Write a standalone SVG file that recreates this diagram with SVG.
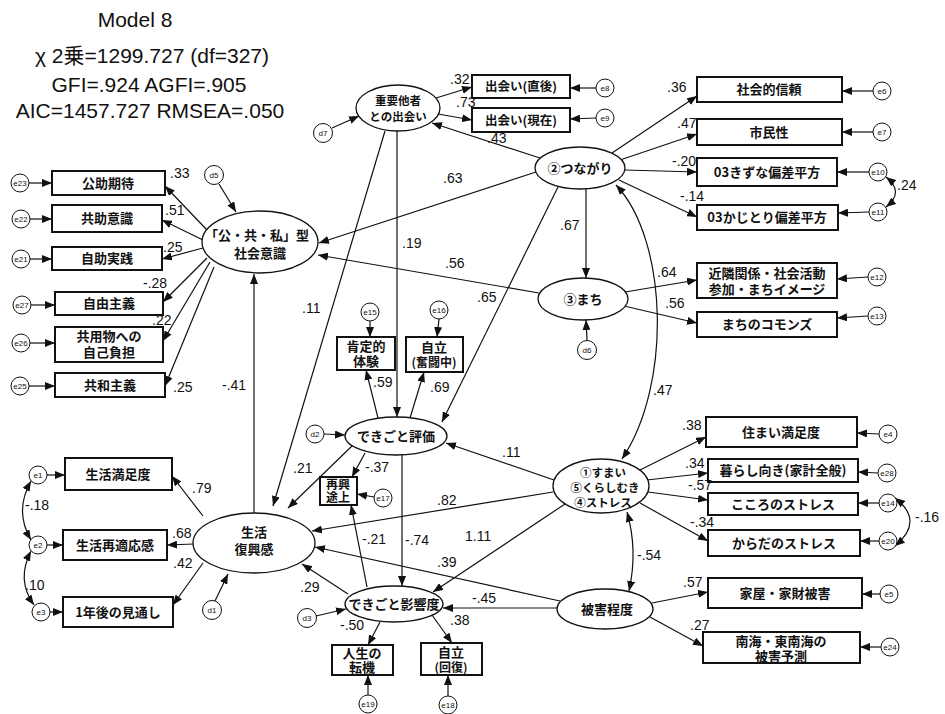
<svg xmlns="http://www.w3.org/2000/svg" width="945" height="714" viewBox="0 0 945 714">
<defs>
<marker id="ah" viewBox="0 0 10 8" refX="10" refY="4" markerWidth="10" markerHeight="8" markerUnits="userSpaceOnUse" orient="auto-start-reverse"><path d="M0,0 L10,4 L0,8 z" fill="#111"/></marker>
<style>
.bx rect{fill:#fff;stroke:#111;stroke-width:2}
.lv ellipse{fill:#fff;stroke:#111;stroke-width:1.3}
.er circle{fill:#fff;stroke:#111;stroke-width:1}
.cn line,.cn path{stroke:#111;stroke-width:1.2;fill:none;marker-end:url(#ah)}
.cn .dbl{marker-start:url(#ah)}
text{fill:#111}
.jp{font-family:"Noto Sans CJK JP",sans-serif;font-size:13px;font-weight:bold;text-anchor:middle}
.sm{font-size:11.5px}
.et{font-family:"Liberation Sans",Arial,sans-serif;font-size:8px;text-anchor:middle}
.n{font-family:"Liberation Sans",Arial,sans-serif;font-size:14px}
.t{font-family:"Liberation Sans","Noto Sans CJK JP",sans-serif;font-size:21px;text-anchor:middle}
</style>
</defs>
<rect width="945" height="714" fill="#fff"/>
<g id="title">
<text class="t" x="135" y="27">Model 8</text>
<text class="t" x="152" y="63">χ 2乗=1299.727 (df=327)</text>
<text class="t" x="149" y="92">GFI=.924 AGFI=.905</text>
<text class="t" x="150" y="118">AIC=1457.727 RMSEA=.050</text>
</g>
<g id="connectors" class="cn">
<line x1="332" y1="128" x2="359" y2="116"/>
<line x1="436" y1="98" x2="472" y2="87"/>
<line x1="438" y1="114" x2="472" y2="120"/>
<line x1="596" y1="88" x2="570" y2="88"/>
<line x1="596" y1="118" x2="570" y2="119"/>
<line x1="540" y1="158" x2="432" y2="123"/>
<line x1="612" y1="153" x2="697" y2="96"/>
<line x1="620" y1="160" x2="697" y2="134"/>
<line x1="625" y1="170" x2="697" y2="172"/>
<line x1="619" y1="180" x2="697" y2="217"/>
<line x1="873" y1="91" x2="842" y2="91"/>
<line x1="873" y1="132" x2="842" y2="132"/>
<line x1="869" y1="172" x2="837" y2="172"/>
<line x1="869" y1="212" x2="838" y2="213"/>
<path class="dbl" d="M886,177 Q905,192 886,207"/>
<line x1="536" y1="172" x2="319" y2="243"/>
<line x1="586" y1="189" x2="586" y2="278"/>
<line x1="558" y1="187" x2="442" y2="422"/>
<path class="dbl" d="M616,185 C668,240 672,385 622,459"/>
<line x1="539" y1="293" x2="318" y2="255"/>
<line x1="625" y1="292" x2="697" y2="280"/>
<line x1="624" y1="306" x2="697" y2="323"/>
<line x1="868" y1="277" x2="837" y2="279"/>
<line x1="868" y1="316" x2="837" y2="318"/>
<line x1="587" y1="340" x2="586" y2="320"/>
<line x1="219" y1="184" x2="236" y2="212"/>
<line x1="207" y1="230" x2="165" y2="186"/>
<line x1="203" y1="240" x2="162" y2="220"/>
<line x1="203" y1="248" x2="162" y2="259"/>
<line x1="207" y1="258" x2="163" y2="302"/>
<line x1="210" y1="262" x2="163" y2="341"/>
<line x1="214" y1="267" x2="165" y2="386"/>
<line x1="29" y1="183" x2="52" y2="183"/>
<line x1="30" y1="219" x2="52" y2="219"/>
<line x1="30" y1="259" x2="52" y2="259"/>
<line x1="31" y1="305" x2="55" y2="305"/>
<line x1="30" y1="343" x2="55" y2="343"/>
<line x1="29" y1="386" x2="55" y2="386"/>
<line x1="385" y1="131" x2="273" y2="506"/>
<line x1="397" y1="131" x2="397" y2="417"/>
<line x1="370" y1="321" x2="370" y2="337"/>
<line x1="439" y1="319" x2="437" y2="337"/>
<line x1="378" y1="418" x2="366" y2="370"/>
<line x1="410" y1="418" x2="424" y2="372"/>
<line x1="324" y1="434" x2="345" y2="435"/>
<line x1="365" y1="453" x2="352" y2="477"/>
<line x1="374" y1="497" x2="357" y2="494"/>
<line x1="352" y1="446" x2="288" y2="508"/>
<line x1="402" y1="455" x2="402" y2="586"/>
<line x1="367" y1="587" x2="351" y2="505"/>
<line x1="554" y1="480" x2="446" y2="443"/>
<line x1="553" y1="492" x2="312" y2="531"/>
<line x1="565" y1="504" x2="433" y2="592"/>
<line x1="640" y1="470" x2="706" y2="437"/>
<line x1="647" y1="480" x2="708" y2="473"/>
<line x1="648" y1="492" x2="708" y2="500"/>
<line x1="640" y1="503" x2="708" y2="541"/>
<line x1="879" y1="434" x2="857" y2="433"/>
<line x1="878" y1="473" x2="858" y2="472"/>
<line x1="879" y1="503" x2="858" y2="503"/>
<line x1="879" y1="541" x2="860" y2="541"/>
<path class="dbl" d="M895,498 Q925,521 895,546"/>
<path class="dbl" d="M627,512 Q638,550 629,591"/>
<line x1="560" y1="601" x2="315" y2="547"/>
<line x1="557" y1="608" x2="443" y2="608"/>
<line x1="652" y1="603" x2="708" y2="592"/>
<line x1="650" y1="617" x2="703" y2="646"/>
<line x1="880" y1="594" x2="862" y2="594"/>
<line x1="881" y1="647" x2="860" y2="647"/>
<line x1="348" y1="594" x2="302" y2="564"/>
<line x1="316" y1="616" x2="346" y2="609"/>
<line x1="380" y1="622" x2="368" y2="645"/>
<line x1="432" y1="615" x2="452" y2="643"/>
<line x1="368" y1="695" x2="368" y2="675"/>
<line x1="448" y1="696" x2="448" y2="675"/>
<line x1="254" y1="513" x2="254" y2="274"/>
<line x1="203" y1="516" x2="172" y2="476"/>
<line x1="194" y1="544" x2="167" y2="545"/>
<line x1="203" y1="563" x2="173" y2="605"/>
<line x1="215" y1="601" x2="228" y2="574"/>
<line x1="47" y1="475" x2="65" y2="475"/>
<line x1="47" y1="545" x2="63" y2="545"/>
<line x1="50" y1="612" x2="63" y2="612"/>
<path class="dbl" d="M31,481 Q14,511 31,540"/>
<path class="dbl" d="M31,551 Q16,580 34,605"/>
</g>
<g id="n-jyuyo" class="lv"><ellipse cx="398" cy="108" rx="42" ry="23"/><text class="jp sm" x="398" y="105">重要他者</text><text class="jp sm" x="398" y="121">との出会い</text></g>
<g id="n-tsunagari" class="lv"><ellipse cx="580" cy="168" rx="45" ry="21"/><text class="jp" x="580" y="173">②つながり</text></g>
<g id="n-machi" class="lv"><ellipse cx="583" cy="299" rx="45" ry="21"/><text class="jp" x="583" y="304">③まち</text></g>
<g id="n-shakai" class="lv"><ellipse cx="260" cy="242" rx="58" ry="31"/><text class="jp" x="257" y="240">「公・共・私」型</text><text class="jp" x="260" y="258">社会意識</text></g>
<g id="n-hyoka" class="lv"><ellipse cx="396" cy="436" rx="51" ry="19"/><text class="jp" x="396" y="441">できごと評価</text></g>
<g id="n-sumai" class="lv"><ellipse cx="601" cy="486" rx="48" ry="27"/><text class="jp sm" x="603" y="477">①すまい</text><text class="jp sm" x="605" y="492">⑤くらしむき</text><text class="jp sm" x="603" y="507">④ストレス</text></g>
<g id="n-seikatsu" class="lv"><ellipse cx="254" cy="543" rx="61" ry="30"/><text class="jp" x="254" y="537">生活</text><text class="jp" x="254" y="554">復興感</text></g>
<g id="n-eikyo" class="lv"><ellipse cx="394" cy="604" rx="49" ry="18"/><text class="jp" x="394" y="609">できごと影響度</text></g>
<g id="n-higai" class="lv"><ellipse cx="605" cy="609" rx="48" ry="20"/><text class="jp" x="607" y="614">被害程度</text></g>
<g id="b-deai1" class="bx"><rect x="472" y="75" width="98" height="23"/><text class="jp" x="521" y="91" style="font-size:12.5px">出会い(直後)</text></g>
<g id="b-deai2" class="bx"><rect x="472" y="108" width="98" height="24"/><text class="jp" x="521" y="125" style="font-size:12.5px">出会い(現在)</text></g>
<g id="b-shinrai" class="bx"><rect x="697" y="77" width="145" height="25"/><text class="jp" x="769" y="94">社会的信頼</text></g>
<g id="b-shimin" class="bx"><rect x="697" y="119" width="145" height="26"/><text class="jp" x="769" y="137">市民性</text></g>
<g id="b-kizuna" class="bx"><rect x="697" y="158" width="140" height="28"/><text class="jp" x="767" y="177">03きずな偏差平方</text></g>
<g id="b-kajitori" class="bx"><rect x="697" y="205" width="141" height="25"/><text class="jp" x="767" y="222">03かじとり偏差平方</text></g>
<g id="b-kinrin" class="bx"><rect x="697" y="263" width="140" height="35"/><text class="jp" x="767" y="278">近隣関係・社会活動</text><text class="jp" x="767" y="294">参加・まちイメージ</text></g>
<g id="b-commons" class="bx"><rect x="697" y="312" width="140" height="25"/><text class="jp" x="767" y="329">まちのコモンズ</text></g>
<g id="b-koujo" class="bx"><rect x="52" y="171" width="113" height="24"/><text class="jp" x="108" y="188">公助期待</text></g>
<g id="b-kyojo" class="bx"><rect x="52" y="205" width="110" height="27"/><text class="jp" x="107" y="223">共助意識</text></g>
<g id="b-jijo" class="bx"><rect x="52" y="247" width="110" height="23"/><text class="jp" x="107" y="263">自助実践</text></g>
<g id="b-jiyu" class="bx"><rect x="55" y="292" width="108" height="23"/><text class="jp" x="109" y="308">自由主義</text></g>
<g id="b-kyoyo" class="bx"><rect x="55" y="327" width="108" height="35"/><text class="jp" x="109" y="341">共用物への</text><text class="jp" x="109" y="357">自己負担</text></g>
<g id="b-kyowa" class="bx"><rect x="55" y="373" width="110" height="24"/><text class="jp" x="110" y="390">共和主義</text></g>
<g id="b-koutei" class="bx"><rect x="337" y="337" width="58" height="33"/><text class="jp" x="366" y="351">肯定的</text><text class="jp" x="366" y="366">体験</text></g>
<g id="b-funto" class="bx"><rect x="406" y="337" width="57" height="35"/><text class="jp" x="434" y="352">自立</text><text class="jp" x="434" y="367" style="font-size:12px">(奮闘中)</text></g>
<g id="b-saiko" class="bx"><rect x="320" y="477" width="37" height="28"/><text class="jp" x="338" y="489" style="font-size:12px">再興</text><text class="jp" x="338" y="502" style="font-size:12px">途上</text></g>
<g id="b-manzoku" class="bx"><rect x="65" y="458" width="107" height="32"/><text class="jp" x="118" y="479">生活満足度</text></g>
<g id="b-saitekiou" class="bx"><rect x="63" y="530" width="104" height="30"/><text class="jp" x="115" y="550">生活再適応感</text></g>
<g id="b-mitooshi" class="bx"><rect x="63" y="597" width="110" height="30"/><text class="jp" x="118" y="617">1年後の見通し</text></g>
<g id="b-jinsei" class="bx"><rect x="332" y="645" width="61" height="30"/><text class="jp" x="362" y="658">人生の</text><text class="jp" x="362" y="672">転機</text></g>
<g id="b-kaifuku" class="bx"><rect x="421" y="643" width="61" height="32"/><text class="jp" x="451" y="657">自立</text><text class="jp" x="451" y="672" style="font-size:12px">(回復)</text></g>
<g id="b-sumaiman" class="bx"><rect x="706" y="417" width="151" height="30"/><text class="jp" x="781" y="437">住まい満足度</text></g>
<g id="b-kurashi" class="bx"><rect x="708" y="459" width="150" height="23"/><text class="jp" x="783" y="475">暮らし向き(家計全般)</text></g>
<g id="b-kokoro" class="bx"><rect x="708" y="493" width="150" height="22"/><text class="jp" x="783" y="509">こころのストレス</text></g>
<g id="b-karada" class="bx"><rect x="708" y="530" width="152" height="26"/><text class="jp" x="784" y="548">からだのストレス</text></g>
<g id="b-kaoku" class="bx"><rect x="708" y="578" width="154" height="30"/><text class="jp" x="785" y="598">家屋・家財被害</text></g>
<g id="b-nankai" class="bx"><rect x="703" y="632" width="157" height="31"/><text class="jp" x="781" y="646">南海・東南海の</text><text class="jp" x="781" y="661">被害予測</text></g>
<g id="errors" class="er">
<g id="e8"><circle cx="605" cy="88" r="9"/><text class="et" x="605" y="91">e8</text></g>
<g id="e9"><circle cx="605" cy="118" r="9"/><text class="et" x="605" y="121">e9</text></g>
<g id="e6"><circle cx="882" cy="91" r="9"/><text class="et" x="882" y="94">e6</text></g>
<g id="e7"><circle cx="882" cy="132" r="9"/><text class="et" x="882" y="135">e7</text></g>
<g id="e10"><circle cx="878" cy="172" r="9"/><text class="et" x="878" y="175">e10</text></g>
<g id="e11"><circle cx="878" cy="212" r="9"/><text class="et" x="878" y="215">e11</text></g>
<g id="e12"><circle cx="877" cy="277" r="9"/><text class="et" x="877" y="280">e12</text></g>
<g id="e13"><circle cx="877" cy="316" r="9"/><text class="et" x="877" y="319">e13</text></g>
<g id="d5"><circle cx="214" cy="175" r="9.5"/><text class="et" x="214" y="178">d5</text></g>
<g id="e23"><circle cx="20" cy="183" r="9"/><text class="et" x="20" y="186">e23</text></g>
<g id="e22"><circle cx="21" cy="219" r="9"/><text class="et" x="21" y="222">e22</text></g>
<g id="e21"><circle cx="21" cy="259" r="9"/><text class="et" x="21" y="262">e21</text></g>
<g id="e27"><circle cx="22" cy="305" r="9"/><text class="et" x="22" y="308">e27</text></g>
<g id="e26"><circle cx="21" cy="343" r="9"/><text class="et" x="21" y="346">e26</text></g>
<g id="e25"><circle cx="20" cy="386" r="9"/><text class="et" x="20" y="389">e25</text></g>
<g id="d7"><circle cx="323" cy="133" r="9.5"/><text class="et" x="323" y="136">d7</text></g>
<g id="d6"><circle cx="587" cy="350" r="9.5"/><text class="et" x="587" y="353">d6</text></g>
<g id="e15"><circle cx="370" cy="312" r="9"/><text class="et" x="370" y="315">e15</text></g>
<g id="e16"><circle cx="439" cy="310" r="9"/><text class="et" x="439" y="313">e16</text></g>
<g id="d2"><circle cx="315" cy="434" r="9"/><text class="et" x="315" y="437">d2</text></g>
<g id="e17"><circle cx="383" cy="498" r="9"/><text class="et" x="383" y="501">e17</text></g>
<g id="e1"><circle cx="38" cy="475" r="9"/><text class="et" x="38" y="478">e1</text></g>
<g id="e2"><circle cx="38" cy="545" r="9"/><text class="et" x="38" y="548">e2</text></g>
<g id="e3"><circle cx="41" cy="612" r="9"/><text class="et" x="41" y="615">e3</text></g>
<g id="d1"><circle cx="212" cy="610" r="9.5"/><text class="et" x="212" y="613">d1</text></g>
<g id="d3"><circle cx="307" cy="618" r="9.5"/><text class="et" x="307" y="621">d3</text></g>
<g id="e19"><circle cx="368" cy="704" r="9"/><text class="et" x="368" y="707">e19</text></g>
<g id="e18"><circle cx="448" cy="705" r="9"/><text class="et" x="448" y="708">e18</text></g>
<g id="e4"><circle cx="888" cy="434" r="9"/><text class="et" x="888" y="437">e4</text></g>
<g id="e28"><circle cx="887" cy="473" r="9"/><text class="et" x="887" y="476">e28</text></g>
<g id="e14"><circle cx="888" cy="503" r="9"/><text class="et" x="888" y="506">e14</text></g>
<g id="e20"><circle cx="888" cy="541" r="9"/><text class="et" x="888" y="544">e20</text></g>
<g id="e5"><circle cx="889" cy="594" r="9"/><text class="et" x="889" y="597">e5</text></g>
<g id="e24"><circle cx="890" cy="647" r="9"/><text class="et" x="890" y="650">e24</text></g>
</g>
<g id="labels" class="n">
<text class="n" x="450" y="84">.32</text>
<text class="n" x="456" y="107">.73</text>
<text class="n" x="487" y="143">.43</text>
<text class="n" x="667" y="92">.36</text>
<text class="n" x="677" y="128">.47</text>
<text class="n" x="672" y="166">-.20</text>
<text class="n" x="680" y="201">-.14</text>
<text class="n" x="897" y="190">.24</text>
<text class="n" x="443" y="183">.63</text>
<text class="n" x="560" y="230">.67</text>
<text class="n" x="477" y="302">.65</text>
<text class="n" x="445" y="268">.56</text>
<text class="n" x="402" y="248">.19</text>
<text class="n" x="657" y="277">.64</text>
<text class="n" x="665" y="308">.56</text>
<text class="n" x="302" y="313">.11</text>
<text class="n" x="170" y="178">.33</text>
<text class="n" x="165" y="215">.51</text>
<text class="n" x="163" y="252">.25</text>
<text class="n" x="143" y="288">-.28</text>
<text class="n" x="152" y="325">.22</text>
<text class="n" x="173" y="392">.25</text>
<text class="n" x="222" y="390">-.41</text>
<text class="n" x="373" y="387">.59</text>
<text class="n" x="430" y="392">.69</text>
<text class="n" x="365" y="472">-.37</text>
<text class="n" x="502" y="457">.11</text>
<text class="n" x="437" y="505">.82</text>
<text class="n" x="465" y="541">1.11</text>
<text class="n" x="362" y="544">-.21</text>
<text class="n" x="405" y="545">-.74</text>
<text class="n" x="293" y="473">.21</text>
<text class="n" x="653" y="395">.47</text>
<text class="n" x="682" y="430">.38</text>
<text class="n" x="685" y="468">.34</text>
<text class="n" x="688" y="490">-.57</text>
<text class="n" x="690" y="527">-.34</text>
<text class="n" x="915" y="522">-.16</text>
<text class="n" x="637" y="560">-.54</text>
<text class="n" x="437" y="567">.39</text>
<text class="n" x="472" y="603">-.45</text>
<text class="n" x="450" y="625">.38</text>
<text class="n" x="340" y="630">-.50</text>
<text class="n" x="683" y="587">.57</text>
<text class="n" x="690" y="630">.27</text>
<text class="n" x="192" y="493">.79</text>
<text class="n" x="172" y="538">.68</text>
<text class="n" x="173" y="568">.42</text>
<text class="n" x="25" y="510">-.18</text>
<text class="n" x="25" y="590">.10</text>
<text class="n" x="300" y="592">.29</text>
</g>
</svg>
